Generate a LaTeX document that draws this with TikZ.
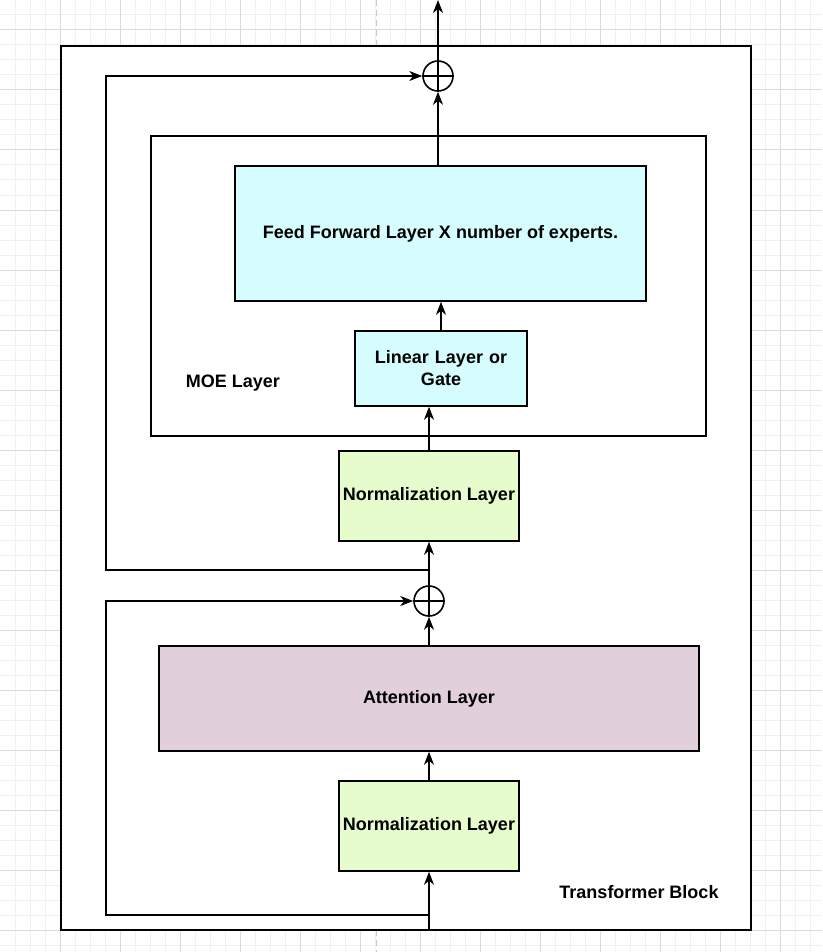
\documentclass[tikz,border=0pt]{standalone}
\usepackage{fontspec}
\setmainfont{Liberation Sans}
\usetikzlibrary{arrows.meta}
\definecolor{gridminor}{HTML}{F0F0F0}
\definecolor{gridmajor}{HTML}{DADADA}
\definecolor{pagebreak}{HTML}{C8C8C8}
\definecolor{cyanfill}{HTML}{D5FDFD}
\definecolor{normfill}{HTML}{E6FCCC}
\definecolor{attfill}{HTML}{E1D0DC}
\tikzset{
  lw/.style={line width=1.6pt},
  layerbox/.style={draw=black, lw, align=center, inner sep=2pt, font=\bfseries\fontsize{18}{22}\selectfont},
  container/.style={draw=black, lw, fill=white, inner sep=0pt},
  label/.style={font=\bfseries\fontsize{18}{22}\selectfont, inner sep=0pt},
  sumnode/.style={draw=black, lw, circle, minimum size=30pt, inner sep=0pt, fill=white},
  conn/.style={lw, -{Stealth[length=13pt,width=10pt,inset=4pt]}},
  plainconn/.style={lw}
}
\begin{document}
\begin{tikzpicture}[x=1pt,y=-1pt]
\useasboundingbox (0,0) rectangle (822,952);
% background grid
\fill[white] (0,0) rectangle (822,952);
\foreach \x in {15,30,...,810} \draw[gridminor, line width=1pt] (\x,0) -- (\x,952);
\foreach \y in {15,30,...,945} \draw[gridminor, line width=1pt] (0,\y) -- (822,\y);
\foreach \x in {60,120,...,780} \draw[gridmajor, line width=1pt] (\x,0) -- (\x,952);
\foreach \y in {30,90,...,930} \draw[gridmajor, line width=1pt] (0,\y) -- (822,\y);
\draw[pagebreak, line width=1pt, dash pattern=on 6pt off 4pt] (376,0) -- (376,952);
% containers
\node[container, minimum width=690pt, minimum height=884pt] (block) at (406,488) {};
\node[container, minimum width=555pt, minimum height=300pt] (moe) at (428.5,286) {};
% layers
\node[layerbox, fill=cyanfill, minimum width=411pt, minimum height=135pt] (ff) at (440.5,233.5) {Feed Forward Layer X number of experts.};
\node[layerbox, fill=cyanfill, minimum width=172pt, minimum height=75pt, text width=165pt] (lin) at (441,368.5) {Linear Layer or\\Gate};
\node[layerbox, fill=normfill, minimum width=180pt, minimum height=90pt] (n1) at (429,496) {Normalization Layer};
\node[layerbox, fill=attfill, minimum width=540pt, minimum height=105pt] (att) at (429,698.5) {Attention Layer};
\node[layerbox, fill=normfill, minimum width=180pt, minimum height=90pt] (n2) at (429,826) {Normalization Layer};
% sum nodes
\node[sumnode] (c1) at (438,76) {};
\node[sumnode] (c2) at (429,601) {};
\draw[lw] (c1.north) -- (c1.south) (c1.west) -- (c1.east);
\draw[lw] (c2.north) -- (c2.south) (c2.west) -- (c2.east);
% labels
\node[label] (moelabel) at (233,383) {MOE Layer};
\node[label] (tblabel) at (639,892) {Transformer Block};
% coordinates
\coordinate (in) at (429,930);
\coordinate (out) at (438,0);
\coordinate (r1) at (429,570);
\coordinate (l1) at (106,570);
\coordinate (r2) at (429,915);
\coordinate (l2) at (106,915);
% main path
\draw[conn] (in) -- (n2.south);
\draw[conn] (n2.north) -- (att.south);
\draw[conn] (att.north) -- (c2.south);
\draw[conn] (c2.north) -- (n1.south);
\draw[conn] (n1.north) -- (n1.north |- lin.south);
\draw[conn] (lin.north) -- (lin.north |- ff.south);
\draw[conn] (ff.north -| c1) -- (c1.south);
\draw[conn] (c1.north) -- (out);
% residuals
\draw[conn] (r1) -- (l1) |- (c1.west);
\draw[conn] (r2) -- (l2) |- (c2.west);
\end{tikzpicture}
\end{document}
